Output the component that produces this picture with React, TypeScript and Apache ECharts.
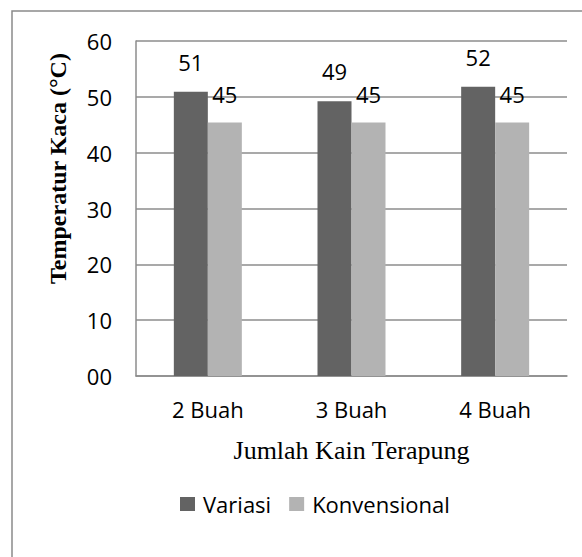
import React, { useEffect, useRef } from "react";
import * as echarts from "echarts";

const categories = ["2 Buah", "3 Buah", "4 Buah"];
const variasi = [50.9, 49.2, 51.8];
const konvensional = [45.4, 45.4, 45.4];
const variasiLabels = ["51", "49", "52"];
const konvensionalLabels = ["45", "45", "45"];
const yTickLabels: Record<number, string> = { 0: "00", 10: "10", 20: "20", 30: "30", 40: "40", 50: "50", 60: "60" };

const SANS = "'Open Sans', sans-serif";
const SERIF = "'Liberation Serif', 'Times New Roman', serif";

export default function App() {
  const ref = useRef<HTMLDivElement>(null);
  useEffect(() => {
    if (!ref.current) return;
    const chart = echarts.init(ref.current, undefined, { renderer: "svg" });
    chart.setOption({
      animation: false,
      backgroundColor: "#ffffff",
      graphic: [
        {
          type: "polyline",
          shape: { points: [[12, 600], [12, 11], [600, 11]] },
          style: { stroke: "#8a8a8a", lineWidth: 1.5, fill: "none" },
          silent: true,
        },
      ],
      grid: { left: 136, right: 15, top: 41, bottom: 181 },
      legend: {
        left: 175,
        top: 488,
        itemWidth: 15,
        itemHeight: 14,
        itemGap: 18,
        icon: "rect",
        textStyle: { fontFamily: SANS, fontSize: 22, color: "#000", padding: [0, 0, 0, 3] },
        data: ["Variasi", "Konvensional"],
      },
      xAxis: {
        type: "category",
        data: categories,
        axisLine: { show: true, lineStyle: { color: "#8c8c8c", width: 1.5 } },
        axisTick: { show: false },
        axisLabel: { fontFamily: SANS, fontSize: 22, color: "#000", margin: 22 },
        name: "Jumlah Kain Terapung",
        nameLocation: "middle",
        nameGap: 61,
        nameTextStyle: { fontFamily: SERIF, fontSize: 26, color: "#000" },
      },
      yAxis: {
        type: "value",
        min: 0,
        max: 60,
        interval: 10,
        axisLine: { show: true, lineStyle: { color: "#8c8c8c", width: 1.5 } },
        axisTick: { show: false },
        splitLine: { show: true, lineStyle: { color: "#8c8c8c", width: 1.5 } },
        axisLabel: {
          fontFamily: SANS,
          fontSize: 22,
          color: "#000",
          margin: 24,
          formatter: (v: number) => yTickLabels[v] ?? String(v),
        },
        name: "Temperatur Kaca (°C)",
        nameLocation: "middle",
        nameGap: 66,
        nameTextStyle: {
          fontFamily: SERIF,
          fontSize: 24,
          fontWeight: "bold",
          color: "#000",
          padding: [0, 0, 0, 80],
        },
      },
      series: [
        {
          name: "Variasi",
          type: "bar",
          data: variasi,
          barWidth: 34,
          barGap: "0%",
          itemStyle: { color: "#636363" },
          label: {
            show: true,
            position: "top",
            distance: 19,
            fontFamily: SANS,
            fontSize: 22,
            color: "#000",
            formatter: (p: any) => variasiLabels[p.dataIndex],
          },
        },
        {
          name: "Konvensional",
          type: "bar",
          data: konvensional,
          barWidth: 34,
          barGap: "0%",
          itemStyle: { color: "#b3b3b3" },
          label: {
            show: true,
            position: "top",
            distance: 18,
            fontFamily: SANS,
            fontSize: 22,
            color: "#000",
            formatter: (p: any) => konvensionalLabels[p.dataIndex],
          },
        },
      ],
    });
    return () => chart.dispose();
  }, []);
  return (
    <div
      ref={ref}
      style={{ position: "fixed", left: 0, top: 0, width: 582, height: 557 }}
    />
  );
}
